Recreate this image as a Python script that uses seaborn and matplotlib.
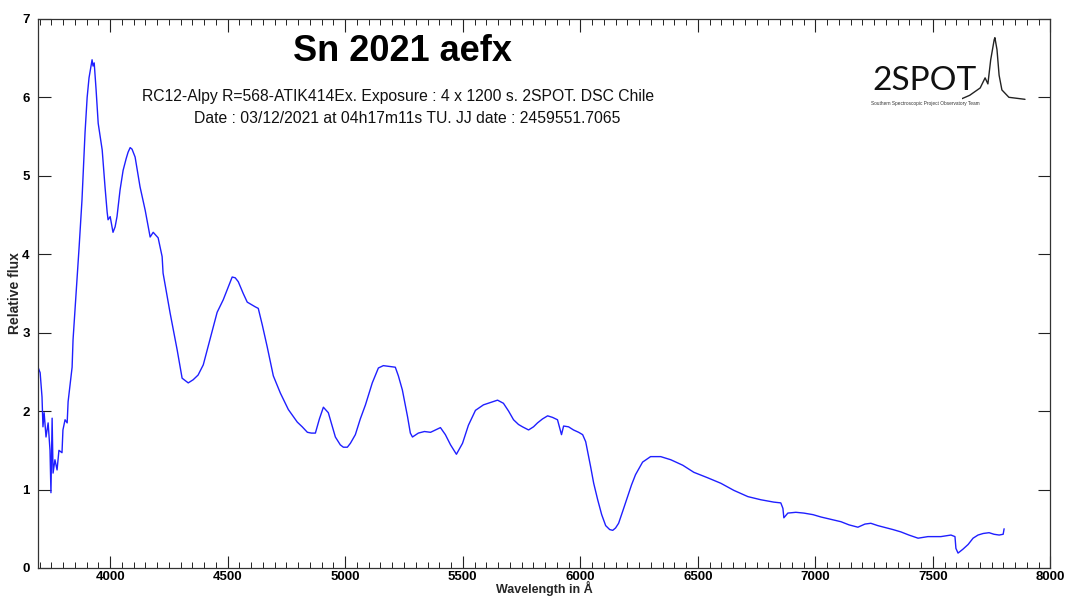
import matplotlib
matplotlib.use("Agg")
import matplotlib.pyplot as plt
from matplotlib.ticker import MultipleLocator
import seaborn as sns
import pandas as pd

# Spectrum of SN 2021aefx: wavelength (Angstrom) and relative flux
wavelength = [
    3693, 3702, 3710, 3714, 3719, 3727, 3736, 3744, 3748, 3753, 3757, 3765,
    3774, 3782, 3795, 3799, 3808, 3817, 3821, 3838, 3842, 3855, 3868, 3880,
    3893, 3902, 3910, 3923, 3927, 3932, 3940, 3949, 3966, 3978, 3987, 3991,
    4000, 4012, 4021, 4029, 4042, 4055, 4068, 4076, 4085, 4093, 4106, 4127,
    4149, 4170, 4183, 4195, 4204, 4221, 4225, 4255, 4285, 4306, 4332, 4353,
    4374, 4396, 4426, 4455, 4481, 4502, 4519, 4532, 4545, 4566, 4583, 4600,
    4617, 4630, 4647, 4668, 4694, 4724, 4758, 4796, 4817, 4839, 4856, 4873,
    4890, 4907, 4928, 4958, 4979, 4992, 5009, 5022, 5043, 5064, 5086, 5115,
    5141, 5162, 5188, 5213, 5226, 5243, 5265, 5277, 5286, 5311, 5337, 5363,
    5384, 5405, 5426, 5448, 5473, 5499, 5524, 5554, 5588, 5618, 5648, 5673,
    5695, 5716, 5737, 5754, 5780, 5801, 5818, 5839, 5861, 5882, 5903, 5920,
    5929, 5950, 5971, 5993, 6010, 6023, 6044, 6057, 6074, 6091, 6108, 6125,
    6138, 6150, 6163, 6180, 6201, 6218, 6235, 6265, 6299, 6342, 6385, 6436,
    6483, 6542, 6598, 6653, 6713, 6768, 6823, 6853, 6862, 6866, 6883, 6917,
    6951, 6990, 7024, 7066, 7109, 7143, 7181, 7211, 7236, 7266, 7292, 7330,
    7364, 7398, 7437, 7479, 7534, 7577, 7594, 7598, 7607, 7628, 7650, 7671,
    7692, 7714, 7739, 7760, 7782, 7799, 7803,
]
flux = [
    2.56, 2.49, 2.18, 1.80, 1.98, 1.67, 1.85, 1.50, 0.96, 1.91, 1.21, 1.38,
    1.25, 1.50, 1.47, 1.76, 1.89, 1.85, 2.12, 2.56, 2.91, 3.50, 4.10, 4.69,
    5.55, 6.00, 6.25, 6.48, 6.40, 6.44, 6.10, 5.67, 5.33, 4.86, 4.54, 4.44,
    4.48, 4.28, 4.35, 4.48, 4.82, 5.07, 5.22, 5.30, 5.36, 5.34, 5.24, 4.86,
    4.56, 4.22, 4.28, 4.24, 4.21, 3.97, 3.76, 3.25, 2.78, 2.42, 2.36, 2.40,
    2.46, 2.59, 2.93, 3.26, 3.42, 3.58, 3.71, 3.70, 3.65, 3.50, 3.39, 3.36,
    3.33, 3.31, 3.10, 2.82, 2.45, 2.23, 2.02, 1.86, 1.80, 1.73, 1.72, 1.72,
    1.90, 2.05, 1.98, 1.67, 1.57, 1.54, 1.54, 1.59, 1.70, 1.90, 2.08, 2.36,
    2.55, 2.58, 2.57, 2.56, 2.45, 2.27, 1.93, 1.72, 1.67, 1.72, 1.74, 1.73,
    1.76, 1.79, 1.70, 1.57, 1.45, 1.59, 1.82, 2.01, 2.08, 2.11, 2.14, 2.10,
    2.00, 1.89, 1.83, 1.80, 1.76, 1.80, 1.85, 1.90, 1.94, 1.92, 1.89, 1.70,
    1.81, 1.80, 1.76, 1.73, 1.70, 1.61, 1.29, 1.08, 0.87, 0.68, 0.54, 0.49,
    0.48, 0.51, 0.57, 0.72, 0.91, 1.06, 1.19, 1.35, 1.42, 1.42, 1.38, 1.31,
    1.22, 1.15, 1.08, 0.99, 0.91, 0.87, 0.84, 0.83, 0.76, 0.64, 0.70, 0.71,
    0.70, 0.68, 0.65, 0.62, 0.59, 0.55, 0.52, 0.56, 0.57, 0.54, 0.52, 0.49,
    0.46, 0.42, 0.38, 0.40, 0.40, 0.42, 0.40, 0.25, 0.19, 0.24, 0.30, 0.38,
    0.42, 0.44, 0.45, 0.43, 0.42, 0.43, 0.50,
]

x_ticks = [4000, 4500, 5000, 5500, 6000, 6500, 7000, 7500, 8000]
y_ticks = [0, 1, 2, 3, 4, 5, 6, 7]

title = "Sn 2021 aefx"
subtitle_1 = "RC12-Alpy R=568-ATIK414Ex. Exposure : 4 x 1200 s. 2SPOT. DSC Chile"
subtitle_2 = "Date : 03/12/2021 at 04h17m11s TU. JJ date : 2459551.7065"

# Outline of the 2SPOT logo peak (normalised units inside the logo box)
logo_u = [0.00, 0.11, 0.26, 0.33, 0.37, 0.41, 0.46, 0.47, 0.50, 0.53, 0.57, 0.67, 0.90]
logo_v = [0.05, 0.10, 0.21, 0.36, 0.27, 0.63, 0.93, 0.96, 0.78, 0.40, 0.18, 0.07, 0.04]

sns.set_style("ticks")
plt.rcParams["font.family"] = ["Liberation Sans", "DejaVu Sans"]

fig = plt.figure(figsize=(10.65, 5.97), dpi=100)
ax = fig.add_axes([0.0357, 0.0486, 0.9506, 0.9196])

df = pd.DataFrame({"wavelength": wavelength, "flux": flux})
sns.lineplot(data=df, x="wavelength", y="flux", ax=ax, color="#1f1fff",
             linewidth=1.0, sort=False, estimator=None)

ax.set_xlim(3693, 8000)
ax.set_ylim(0, 7)
ax.set_xticks(x_ticks)
ax.set_yticks(y_ticks)
ax.xaxis.set_minor_locator(MultipleLocator(50))
ax.tick_params(axis="both", which="major", direction="in", length=9, width=0.8,
               top=True, right=True, labelsize=9.5, colors="#222222", pad=2)
ax.tick_params(axis="x", which="minor", direction="in", length=4, width=0.7,
               top=True, bottom=True, colors="#222222")
for lab in ax.get_xticklabels() + ax.get_yticklabels():
    lab.set_fontweight("bold")
    lab.set_color("black")
ax.tick_params(axis="y", pad=6)
for sp in ax.spines.values():
    sp.set_linewidth(0.9)
    sp.set_color("#333333")

ax.set_xlabel("Wavelength in \u00c5", fontsize=9, fontweight="bold", labelpad=-1)
ax.set_ylabel("Relative flux", fontsize=10, fontweight="bold", labelpad=0)

fig.text(0.378, 0.914, title, ha="center", va="center", fontsize=26,
         fontweight="bold", color="black")
fig.text(0.374, 0.838, subtitle_1, ha="center", va="center", fontsize=11.3,
         color="#111111")
fig.text(0.382, 0.802, subtitle_2, ha="center", va="center", fontsize=11.3,
         color="#111111")

# 2SPOT logo
fig.text(0.819, 0.865, "2SPOT", ha="left", va="center", fontsize=24,
         family=["Lato", "DejaVu Sans"], fontweight="normal", color="#111111")
fig.text(0.818, 0.826, "Southern Spectroscopic Project Observatory Team",
         ha="left", va="center", fontsize=3.4, color="#333333")
logo_ax = fig.add_axes([962 / 1065, 1 - 102 / 597, 70 / 1065, 67 / 597])
logo_ax.plot(logo_u, logo_v, color="#222222", linewidth=1.0)
logo_ax.set_xlim(0, 1)
logo_ax.set_ylim(0, 1)
logo_ax.axis("off")

fig.savefig("out.png", dpi=100)
